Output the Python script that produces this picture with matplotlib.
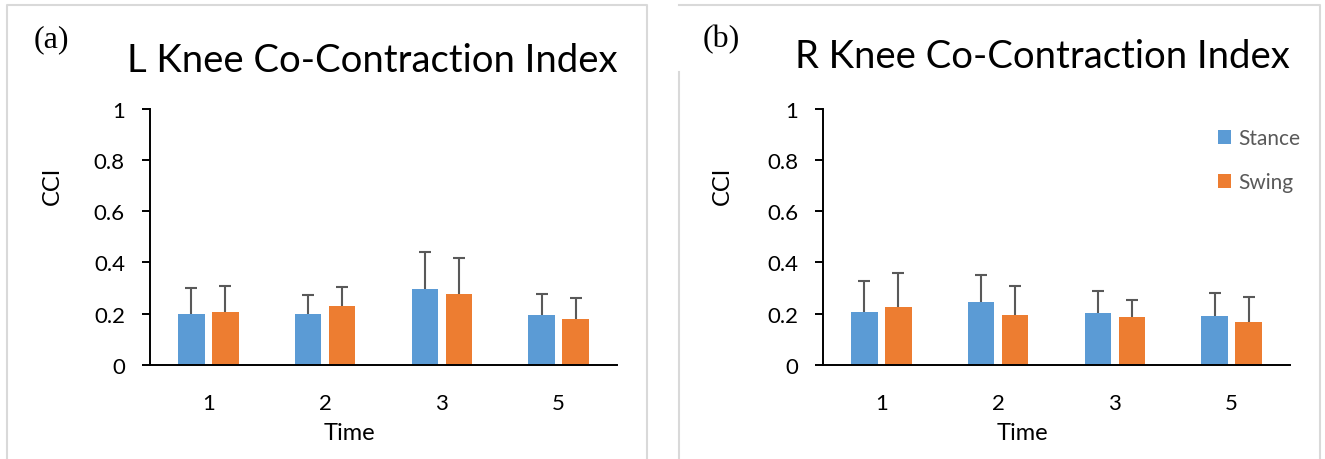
import matplotlib
matplotlib.use("Agg")
import matplotlib.pyplot as plt
import numpy as np
from matplotlib.lines import Line2D

# data
times = ["1", "2", "3", "5"]
series = ["Stance", "Swing"]

l_stance = [0.197, 0.197, 0.298, 0.193]
l_stance_sd = [0.103, 0.074, 0.142, 0.084]
l_swing = [0.206, 0.231, 0.276, 0.180]
l_swing_sd = [0.103, 0.074, 0.143, 0.083]

r_stance = [0.205, 0.245, 0.202, 0.191]
r_stance_sd = [0.122, 0.106, 0.085, 0.089]
r_swing = [0.227, 0.193, 0.189, 0.167]
r_swing_sd = [0.132, 0.116, 0.064, 0.098]

titles = ["L Knee Co-Contraction Index", "R Knee Co-Contraction Index"]
panel_tags = ["(a)", "(b)"]

BLUE = "#5B9BD5"
ORANGE = "#ED7D31"
ERR = "#595959"

plt.rcParams["font.family"] = ["Lato", "DejaVu Sans"]

W, H = 1325, 460
fig = plt.figure(figsize=(W / 100, H / 100), dpi=100)


def px(x, y):
    # pixel coords (top-left origin) -> figure fraction
    return x / W, 1 - y / H


def draw_panel(ax, stance, stance_sd, swing, swing_sd):
    x = np.arange(len(times))
    bw = 0.227
    off = 0.146
    ax.bar(x - off, stance, bw, color=BLUE, label=series[0], zorder=2)
    ax.bar(x + off, swing, bw, color=ORANGE, label=series[1], zorder=2)
    for xs, vals, sd in [(x - off, stance, stance_sd), (x + off, swing, swing_sd)]:
        eb = ax.errorbar(xs, vals, yerr=[np.zeros(len(sd)), sd], fmt="none",
                         ecolor=ERR, elinewidth=1.5, capsize=4, capthick=1.5, zorder=1)
        # only the upper cap
        eb[1][0].set_visible(False)
    ax.set_xlim(-0.5, 3.5)
    ax.set_ylim(0, 1)
    ax.set_xticks(x)
    ax.set_xticklabels(times)
    ax.set_yticks([0, 0.2, 0.4, 0.6, 0.8, 1])
    ax.set_yticklabels(["0", "0.2", "0.4", "0.6", "0.8", "1"])
    ax.tick_params(axis="y", length=6, width=1.4, pad=12, labelsize=16)
    ax.tick_params(axis="x", length=0, pad=20, labelsize=16)
    for s in ["top", "right"]:
        ax.spines[s].set_visible(False)
    for s in ["left", "bottom"]:
        ax.spines[s].set_linewidth(1.4)
    ax.set_xlabel("Time", fontsize=17)
    ax.xaxis.set_label_coords(0.428, -0.222)


ax_w = 467 / W
ax_h = (366 - 109.5) / H
ax_b = 1 - 366 / H

ax1 = fig.add_axes([150 / W, ax_b, ax_w, ax_h])
draw_panel(ax1, l_stance, l_stance_sd, l_swing, l_swing_sd)
ax2 = fig.add_axes([823 / W, ax_b, ax_w, ax_h])
draw_panel(ax2, r_stance, r_stance_sd, r_swing, r_swing_sd)

# y labels
fig.text(*px(52, 186), "CCI", rotation=90, ha="center", va="center", fontsize=17)
fig.text(*px(722, 186), "CCI", rotation=90, ha="center", va="center", fontsize=17)

# titles
fig.text(*px(372, 61), titles[0], ha="center", va="center", fontsize=27.5)
fig.text(*px(1042, 57), titles[1], ha="center", va="center", fontsize=27.5)

# panel tags
fig.text(*px(51, 40), panel_tags[0], ha="center", va="center", fontsize=23,
         family="Liberation Serif")
fig.text(*px(721, 40), panel_tags[1], ha="center", va="center", fontsize=23,
         family="Liberation Serif")

# legend on the right panel
ax2.legend(loc="upper left", bbox_to_anchor=px(1210, 121), bbox_transform=fig.transFigure,
           frameon=False, fontsize=15, labelcolor="#595959", handlelength=0.62,
           handleheight=0.62, handletextpad=0.35, labelspacing=1.15, borderaxespad=0)

# light grey panel borders
grey = "#d9d9d9"
borders = [
    [(7, 460), (7, 6), (647, 6), (647, 460)],
    [(679, 460), (679, 73)],
    [(679, 6), (1320, 6), (1320, 460)],
]
for pts in borders:
    xs, ys = zip(*[px(a, b) for a, b in pts])
    fig.add_artist(Line2D(xs, ys, color=grey, lw=1.5, transform=fig.transFigure))

fig.savefig("out.png", dpi=100)
